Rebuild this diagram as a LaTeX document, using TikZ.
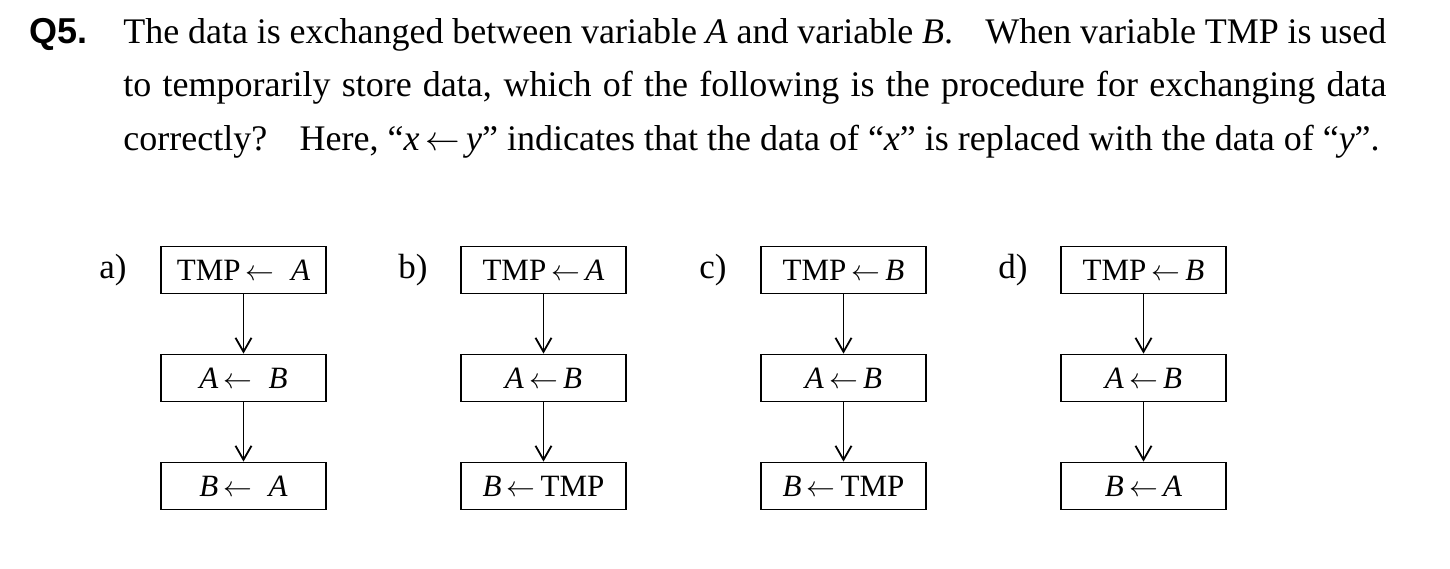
\documentclass[tikz,border=0pt]{standalone}
\usepackage{fontspec}
\setmainfont{Liberation Serif}
\newfontfamily\qfont{Liberation Sans}
\usetikzlibrary{arrows.meta}
\begin{document}
\begin{tikzpicture}[x=0.5pt,y=-0.5pt,
  txt/.style={anchor=base west,inner sep=0pt,font=\fontsize{18}{21}\selectfont},
  stepbox/.style={draw,line width=0.9pt,minimum width=82.5pt,minimum height=23.5pt,inner sep=0pt,font=\fontsize{15.5}{18}\selectfont},
  lab/.style={anchor=base,inner sep=0pt,font=\fontsize{17.5}{20}\selectfont},
  flow/.style={line width=0.9pt,-{Straight Barb[length=7pt,width=8pt,line width=0.9pt]}}]
\useasboundingbox (0,0) rectangle (1450,568);
\node[txt] (q) at (29,43) {\qfont\bfseries Q5.};
\node[txt] (l1) at (123,43) {\makebox[631.5pt][s]{The data is exchanged between variable \textit{A} and variable \textit{B}.\hspace{0.9em}When variable TMP is used}};
\node[txt] (l2) at (123,96.5) {\makebox[631.5pt][s]{to temporarily store data, which of the following is the procedure for exchanging data}};
\node[txt] (l3) at (123,150) {correctly?\hspace{0.9em}Here, “\textit{x}\,$\leftarrow$\,\textit{y}” indicates that the data of “\textit{x}” is replaced with the data of “\textit{y}”.};
% a
\node[lab] (la) at (113,278) {a)};
\node[stepbox] (a1) at (243.5,270) {TMP\,$\leftarrow$\; \textit{A}};
\node[stepbox] (a2) at (243.5,378) {\textit{A}\,$\leftarrow$\; \textit{B}};
\node[stepbox] (a3) at (243.5,486) {\textit{B}\,$\leftarrow$\; \textit{A}};
% b
\node[lab] (lb) at (413,278) {b)};
\node[stepbox] (b1) at (543.5,270) {TMP\,$\leftarrow$\,\textit{A}};
\node[stepbox] (b2) at (543.5,378) {\textit{A}\,$\leftarrow$\,\textit{B}};
\node[stepbox] (b3) at (543.5,486) {\textit{B}\,$\leftarrow$\,TMP};
% c
\node[lab] (lc) at (713,278) {c)};
\node[stepbox] (c1) at (843.5,270) {TMP\,$\leftarrow$\,\textit{B}};
\node[stepbox] (c2) at (843.5,378) {\textit{A}\,$\leftarrow$\,\textit{B}};
\node[stepbox] (c3) at (843.5,486) {\textit{B}\,$\leftarrow$\,TMP};
% d
\node[lab] (ld) at (1013,278) {d)};
\node[stepbox] (d1) at (1143.5,270) {TMP\,$\leftarrow$\,\textit{B}};
\node[stepbox] (d2) at (1143.5,378) {\textit{A}\,$\leftarrow$\,\textit{B}};
\node[stepbox] (d3) at (1143.5,486) {\textit{B}\,$\leftarrow$\,\textit{A}};
\foreach \p in {a,b,c,d}{
  \draw[flow] (\p1) -- (\p2);
  \draw[flow] (\p2) -- (\p3);
}
\end{tikzpicture}
\end{document}
